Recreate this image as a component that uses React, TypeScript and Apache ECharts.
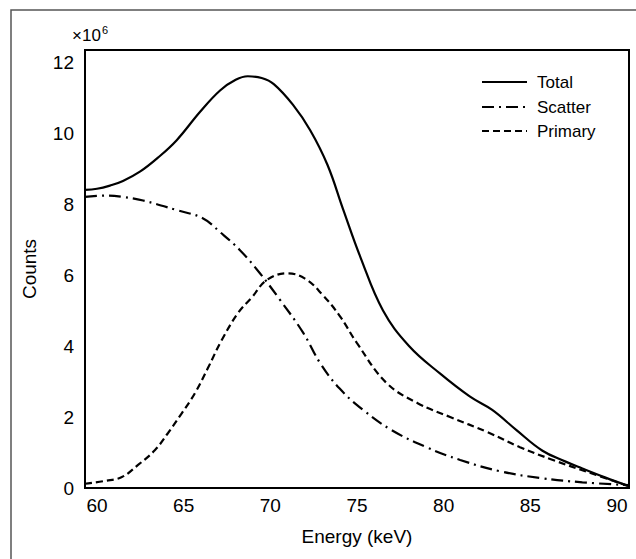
import React, { useEffect, useRef } from "react";
import * as echarts from "echarts";

// Energy (keV) / Counts (×10^6)
const totalEnergy = [59.31, 60, 60.75, 61.5, 62.5, 63.5, 64.6, 65.95, 67.1, 68, 68.7, 69.5, 70.2, 71.3, 72.3, 73.3, 74.2, 75.2, 76.5, 78.0, 79.8, 81.5, 82.8, 84.2, 85.7, 87, 88.0, 89.3, 90.69];
const totalCounts = [8.4, 8.43, 8.52, 8.65, 8.92, 9.3, 9.8, 10.6, 11.2, 11.5, 11.6, 11.55, 11.38, 10.8, 10.08, 9.1, 7.85, 6.5, 5.0, 4.0, 3.22, 2.58, 2.2, 1.63, 1.05, 0.75, 0.55, 0.3, 0.05];

const scatterEnergy = [59.31, 60.5, 61.5, 62.66, 64.6, 66.1, 67.1, 68.25, 69.4, 70.56, 71.9, 72.9, 74.0, 75.35, 77.0, 79.0, 80.95, 83.26, 85.6, 88.0, 90.69];
const scatterCounts = [8.2, 8.24, 8.2, 8.1, 7.83, 7.6, 7.21, 6.7, 6.05, 5.3, 4.37, 3.5, 2.8, 2.2, 1.63, 1.15, 0.79, 0.47, 0.28, 0.16, 0.08];

const primaryEnergy = [59.31, 60.46, 61.44, 62.37, 63.35, 64.1, 64.9, 65.66, 66.4, 67.2, 68.14, 68.95, 69.8, 70.97, 72.0, 73.0, 74.0, 75.0, 76.7, 78.5, 80.37, 82.5, 84.4, 86.3, 88.3, 90.69];
const primaryCounts = [0.12, 0.2, 0.31, 0.65, 1.07, 1.55, 2.11, 2.68, 3.38, 4.17, 4.93, 5.38, 5.86, 6.05, 5.9, 5.45, 4.85, 4.08, 2.96, 2.39, 2.0, 1.58, 1.15, 0.79, 0.45, 0.05];

const xTicks = [60, 65, 70, 75, 80, 85, 90];
const yTicks = [0, 2, 4, 6, 8, 10, 12];
const legendNames = ["Total", "Scatter", "Primary"];

const FONT = "'Liberation Sans', Arial, sans-serif";
const scatterDash = [12, 5, 2, 5];
const primaryDash = [7, 4];

function pairs(xs: number[], ys: number[]) {
  return xs.map((x, i) => [x, ys[i]]);
}

export default function App() {
  const ref = useRef<HTMLDivElement>(null);
  useEffect(() => {
    document.body.style.margin = "0";
    const chart = echarts.init(ref.current!, undefined, { renderer: "svg" });
    const dashes = [null, scatterDash, primaryDash];
    const legendY = [82, 107, 131];
    const legendGraphics: any[] = [];
    legendNames.forEach((n, i) => {
      legendGraphics.push({
        type: "line",
        shape: { x1: 482, y1: legendY[i], x2: 527, y2: legendY[i] },
        style: { stroke: "#000", lineWidth: 2, lineDash: dashes[i] || undefined },
      });
      legendGraphics.push({
        type: "text",
        x: 537,
        y: legendY[i],
        style: { text: n, fontSize: 17, fontFamily: FONT, fill: "#000", verticalAlign: "middle", align: "left" },
      });
    });
    chart.setOption({
      animation: false,
      backgroundColor: "#fff",
      grid: { left: 85, top: 50, width: 544, height: 438, show: true, borderColor: "#000", borderWidth: 2 },
      xAxis: {
        type: "value",
        min: 59.31,
        max: 90.69,
        name: "Energy (keV)",
        nameLocation: "middle",
        nameGap: 39,
        nameTextStyle: { fontSize: 19, fontFamily: FONT, color: "#000" },
        axisLine: { show: true, lineStyle: { color: "#000", width: 2 } },
        axisTick: { show: false },
        splitLine: { show: false },
        axisLabel: { customValues: xTicks, fontSize: 19, fontFamily: FONT, color: "#000", margin: 8 },
      },
      yAxis: {
        type: "value",
        min: 0,
        max: 12.34,
        name: "Counts",
        nameLocation: "middle",
        nameGap: 46,
        nameTextStyle: { fontSize: 19, fontFamily: FONT, color: "#000" },
        axisLine: { show: true, lineStyle: { color: "#000", width: 2 } },
        axisTick: { show: false },
        splitLine: { show: false },
        axisLabel: { customValues: yTicks, fontSize: 19, fontFamily: FONT, color: "#000", margin: 11 },
      },
      graphic: [
        {
          type: "rect",
          shape: { x: 11, y: 10, width: 700, height: 700 },
          style: { fill: "none", stroke: "#555", lineWidth: 1.5 },
          silent: true,
        },
        {
          type: "text",
          x: 72,
          y: 35,
          style: { text: "×10", fontSize: 17, fontFamily: FONT, fill: "#000", verticalAlign: "middle" },
        },
        {
          type: "text",
          x: 102,
          y: 24,
          style: { text: "6", fontSize: 11, fontFamily: FONT, fill: "#000", verticalAlign: "top" },
        },
        ...legendGraphics,
      ],
      series: [
        {
          name: "Total",
          type: "line",
          smooth: 0.4,
          symbol: "none",
          data: pairs(totalEnergy, totalCounts),
          lineStyle: { color: "#000", width: 2.2 },
        },
        {
          name: "Scatter",
          type: "line",
          smooth: 0.4,
          symbol: "none",
          data: pairs(scatterEnergy, scatterCounts),
          lineStyle: { color: "#000", width: 2.2, type: scatterDash },
        },
        {
          name: "Primary",
          type: "line",
          smooth: 0.4,
          symbol: "none",
          data: pairs(primaryEnergy, primaryCounts),
          lineStyle: { color: "#000", width: 2.2, type: primaryDash },
        },
      ],
    });
    return () => chart.dispose();
  }, []);
  return <div ref={ref} style={{ position: "fixed", left: 0, top: 0, width: 636, height: 559 }} />;
}
